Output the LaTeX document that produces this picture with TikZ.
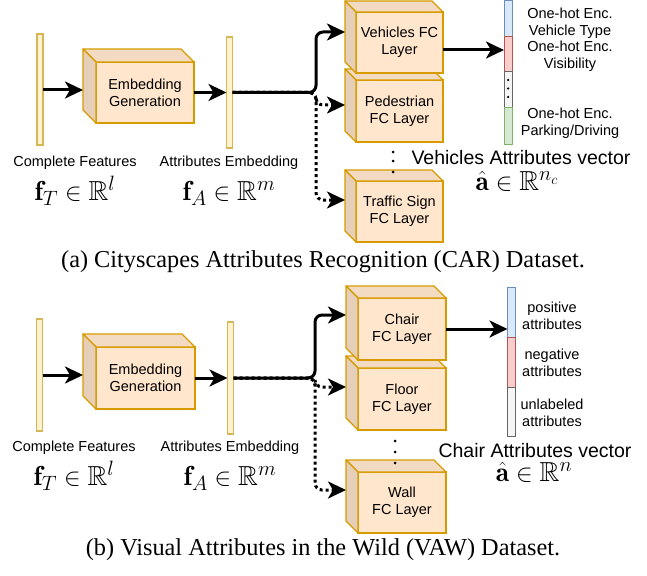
\documentclass[tikz,border=0pt]{standalone}
\usepackage{amsmath,amssymb}
\usepackage{fontspec}
\newfontfamily\labelfont{Liberation Sans}
\newfontfamily\capfont{Liberation Serif}
\usetikzlibrary{arrows.meta,calc}

\definecolor{barfill}{HTML}{FFF2CC}
\definecolor{barline}{HTML}{D6B656}
\definecolor{boxfill}{HTML}{FFE6CC}
\definecolor{boxline}{HTML}{D79B00}
\definecolor{boxtop}{HTML}{F2DBC2}
\definecolor{boxside}{HTML}{E6CFB8}
\definecolor{posfill}{HTML}{DAE8FC}
\definecolor{posline}{HTML}{6C8EBF}
\definecolor{negfill}{HTML}{F8CECC}
\definecolor{negline}{HTML}{B85450}
\definecolor{unkfill}{HTML}{F5F5F5}
\definecolor{unkline}{HTML}{666666}
\definecolor{grnfill}{HTML}{D5E8D4}
\definecolor{grnline}{HTML}{82B366}

\tikzset{
  featbar/.style={draw=barline, fill=barfill, line width=1.2pt, minimum width=6pt,
    inner sep=0pt, outer sep=0pt},
  facebox/.style={draw=boxline, fill=boxfill, line width=1.3pt, inner sep=0pt,
    outer sep=0pt, align=center, font=\labelfont\fontsize{14.5}{17}\selectfont},
  faceside/.style={draw=boxline, line width=1.3pt, line join=round},
  lbl/.style={inner sep=0pt, align=center, font=\labelfont\fontsize{14.5}{17}\selectfont},
  biglbl/.style={inner sep=0pt, align=center, text depth=0pt,
    font=\labelfont\fontsize{19.5}{22}\selectfont},
  mathlbl/.style={inner sep=0pt, anchor=base, font=\fontsize{27.5}{30}\selectfont},
  caption/.style={inner sep=0pt, font=\capfont\fontsize{24.3}{26}\selectfont},
  seg/.style={line width=1pt, minimum width=8pt, inner sep=0pt, outer sep=0pt},
  link/.style={line width=3pt, rounded corners=7pt,
    -{Stealth[length=18pt,width=17pt,inset=5pt]}},
  dotlink/.style={link, dash pattern=on 3pt off 3pt},
  sdot/.style={circle, fill=black, inner sep=0pt, minimum size=3pt},
}

% box drawn as a cube: front face node plus top and left faces
% #1 name, #2 x, #3 y, #4 width, #5 height, #6 depth, #7 text
\newcommand\cubebox[7]{%
  \node[facebox, minimum width=#4pt, minimum height=#5pt] (#1) at (#2,#3) {#7};
  \draw[faceside, fill=boxtop] (#1.north west) -- ++(-#6,-#6)
    -- ($(#1.north east)+(-#6,-#6)$) -- (#1.north east) -- cycle;
  \draw[faceside, fill=boxside] (#1.north west) -- ++(-#6,-#6)
    -- ($(#1.south west)+(-#6,-#6)$) -- (#1.south west) -- cycle;
}

\begin{document}
\begin{tikzpicture}[x=1pt, y=-1pt]
\useasboundingbox[fill=white] (0,0) rectangle (647,575);

% ---------------- (a) CAR ----------------
\node[featbar, minimum height=111pt] (fT) at (40,89.5) {};
\cubebox{emb}{145}{92.5}{98}{61}{13}{Embedding\\Generation}
\node[featbar, minimum height=111pt] (fA) at (229.5,92.5) {};

\node[lbl] (fTlbl) at (75,163) {Complete Features};
\node[lbl] (fAlbl) at (229,163) {Attributes Embedding};
\node[mathlbl] (fTmath) at (75,200) {$\mathbf{f}_T \in \mathbb{R}^l$};
\node[mathlbl] (fAmath) at (229,200) {$\mathbf{f}_A \in \mathbb{R}^m$};

\cubebox{ped}{399.5}{111}{87}{62}{11}{Pedestrian\\FC Layer}
\cubebox{veh}{399.5}{42.5}{87}{61}{11}{Vehicles FC\\Layer}
\cubebox{trf}{399.5}{211.5}{87}{61}{11}{Traffic Sign\\FC Layer}

\node[sdot] (ad1) at (393,152) {};
\node[sdot] (ad2) at (393,161) {};
\node[sdot] (ad3) at (393,172) {};

% attribute vector
\node[seg, draw=posline, fill=posfill, minimum height=36pt] (va1) at (508,19) {};
\node[seg, draw=negline, fill=negfill, minimum height=35pt] (va2) at (508,54.5) {};
\node[seg, draw=unkline, fill=unkfill, minimum height=36pt] (va3) at (508,90) {};
\node[seg, draw=grnline, fill=grnfill, minimum height=36pt] (va4) at (508,126) {};
\node[sdot, minimum size=2.5pt] (vd1) at (508,80) {};
\node[sdot, minimum size=2.5pt] (vd2) at (508,88.5) {};
\node[sdot, minimum size=2.5pt] (vd3) at (508,97) {};

\node[lbl] (la1) at (570,23.5) {One-hot Enc.\\Vehicle Type};
\node[lbl] (la2) at (570,56) {One-hot Enc.\\Visibility};
\node[lbl] (la4) at (570,123) {One-hot Enc.\\Parking/Driving};
\node[biglbl] (vecA) at (521,157) {Vehicles Attributes vector};
\node[mathlbl] (vecAmath) at (517,190) {$\hat{\mathbf{a}} \in \mathbb{R}^{n_c}$};

\coordinate (jA) at (316,92.5);
\coordinate (vehin) at (345,32);
\coordinate (pedin) at (345,105);
\coordinate (trfin) at (345,200);
\coordinate (vehout) at (443,50);

\draw[link] (fT.east |- 0,90) -- (83,90);
\draw[link] (emb.east |- fA) -- (fA.west);
\draw[dotlink] (fA.east) -- (jA) |- (pedin);
\draw[dotlink] (fA.east) -- (jA) |- (trfin);
\draw[link] (fA.east) -- (jA) |- (vehin);
\draw[link] (vehout) -- (vehout -| va2.west);

\node[caption] (capA) at (323,262) {(a) Cityscapes Attributes Recognition (CAR) Dataset.};

% ---------------- (b) VAW ----------------
\node[featbar, minimum height=112pt] (gT) at (39.5,375) {};
\cubebox{emb2}{145.5}{378}{99}{62}{13}{Embedding\\Generation}
\node[featbar, minimum height=112pt] (gA) at (230.5,378) {};

\node[lbl] (gTlbl) at (74,448) {Complete Features};
\node[lbl] (gAlbl) at (230,448) {Attributes Embedding};
\node[mathlbl] (gTmath) at (74,485) {$\mathbf{f}_T \in \mathbb{R}^l$};
\node[mathlbl] (gAmath) at (230,485) {$\mathbf{f}_A \in \mathbb{R}^m$};

\cubebox{flr}{402}{399}{88}{62}{12}{Floor\\FC Layer}
\cubebox{chr}{402}{329}{88}{62}{12}{Chair\\FC Layer}
\cubebox{wal}{402}{502.5}{88}{61}{12}{Wall\\FC Layer}

\node[sdot] (bd1) at (395,441) {};
\node[sdot] (bd2) at (395,452) {};
\node[sdot] (bd3) at (395,463) {};

\node[seg, draw=posline, fill=posfill, minimum height=50pt] (vb1) at (511.5,312) {};
\node[seg, draw=negline, fill=negfill, minimum height=50pt] (vb2) at (511.5,362) {};
\node[seg, draw=unkline, fill=unkfill, minimum height=49pt] (vb3) at (511.5,411.5) {};

\node[lbl] (lb1) at (552,315.5) {positive\\attributes};
\node[lbl] (lb2) at (552,362.5) {negative\\attributes};
\node[lbl] (lb3) at (552,412.5) {unlabeled\\attributes};
\node[biglbl] (vecB) at (535,450) {Chair Attributes vector};
\node[mathlbl] (vecBmath) at (534,481) {$\hat{\mathbf{a}} \in \mathbb{R}^{n}$};

\coordinate (jB) at (315,378);
\coordinate (chrin) at (346,315);
\coordinate (flrin) at (346,387);
\coordinate (walin) at (346,490);

\draw[link] (gT.east |- 0,375) -- (83,375);
\draw[link] (emb2.east) -- (gA.west |- emb2.east);
\draw[dotlink] (gA.east) -- (jB) |- (flrin);
\draw[dotlink] (gA.east) -- (jB) |- (walin);
\draw[link] (gA.east) -- (jB) |- (chrin);
\draw[link] (chr.east) -- (chr.east -| vb1.west);

\node[caption] (capB) at (323,550) {(b) Visual Attributes in the Wild (VAW) Dataset.};
\end{tikzpicture}
\end{document}
